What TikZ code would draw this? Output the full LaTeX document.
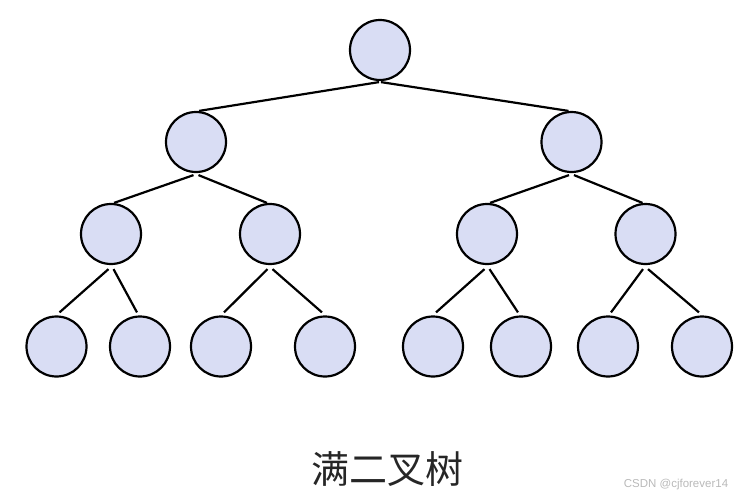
\documentclass[tikz,border=0pt]{standalone}
\usepackage{fontspec}
\newfontfamily\cjk{Noto Sans CJK SC}
\setmainfont{Liberation Sans}
\definecolor{lav}{RGB}{217,221,244}
\definecolor{wm}{RGB}{185,185,185}
\begin{document}
\begin{tikzpicture}[x=1pt,y=-1pt,
  tnode/.style={circle,draw=black,fill=lav,line width=2.2pt,minimum size=60pt,inner sep=0pt},
  tedge/.style={line width=2.2pt}]
\useasboundingbox (0,0) rectangle (748,499);
\node[tnode] (r) at (380,50) {};
\node[tnode] (a) at (196,142) {};
\node[tnode] (b) at (571.5,142) {};
\node[tnode] (a1) at (111,234) {};
\node[tnode] (a2) at (270,234) {};
\node[tnode] (b1) at (487,234) {};
\node[tnode] (b2) at (645.5,234) {};
\node[tnode] (a11) at (56.5,346.5) {};
\node[tnode] (a12) at (140,346.5) {};
\node[tnode] (a21) at (221,346.5) {};
\node[tnode] (a22) at (325,346.5) {};
\node[tnode] (b11) at (433,346.5) {};
\node[tnode] (b12) at (521,346.5) {};
\node[tnode] (b21) at (608,346.5) {};
\node[tnode] (b22) at (702,346.5) {};
% root edges
\draw[tedge] ([shift={(-1,1)}]r.south) -- ([shift={(3,0)}]a.north);
\draw[tedge] ([shift={(1,1)}]r.south) -- ([shift={(-3,0)}]b.north);
% level 1 -> 2
\foreach \p/\c/\d in {a/a1/1,a/a2/-1,b/b1/1,b/b2/-1}{
  \draw[tedge] ([shift={({-2.5*\d},2)}]\p.south) -- ([shift={({3*\d},0)}]\c.north);
}
% level 2 -> 3
\foreach \p/\c/\d in {a1/a11/1,a1/a12/-1,a2/a21/1,a2/a22/-1,b1/b11/1,b1/b12/-1,b2/b21/1,b2/b22/-1}{
  \draw[tedge] ([shift={({-2.5*\d},4)}]\p.south) -- ([shift={({3*\d},-3)}]\c.north);
}
\node[font=\cjk\fontsize{38}{42}\selectfont,text=black!85] (t) at (387,469) {满二叉树};
\node[font=\fontsize{11.5}{13}\selectfont,text=wm] (w) at (676,485) {CSDN @cjforever14};
\end{tikzpicture}
\end{document}
